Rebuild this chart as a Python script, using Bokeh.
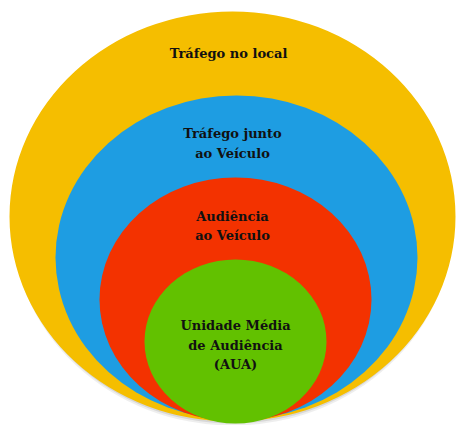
from bokeh.plotting import figure
from bokeh.models import Range1d, ColumnDataSource
from bokeh.core.properties import value
from bokeh.embed import file_html
from bokeh.resources import INLINE

# Nested audience levels (outer to inner), in pixel-like units
levels = ["Tráfego no local", "Tráfego junto ao Veículo", "Audiência ao Veículo", "Unidade Média de Audiência (AUA)"]
centers_x = [232, 236, 235, 235]
centers_y = [216, 257, 299, 341]
widths = [446, 362, 272, 182]
heights = [410, 324, 244, 164]
colors = ["#F5BE00", "#1E9DE2", "#F33200", "#62C100"]

label_lines = ["Tráfego no local", "Tráfego junto", "ao Veículo", "Audiência", "ao Veículo",
               "Unidade Média", "de Audiência", "(AUA)"]
label_x = [228, 232, 232, 232, 232, 235, 235, 235]
label_y = [53, 133, 153, 216, 235, 325, 345, 364]

W, H = 458, 425
p = figure(width=W, height=H, output_backend="svg", toolbar_location=None,
           x_range=Range1d(0, W), y_range=Range1d(H, 0), min_border=0)
p.axis.visible = False
p.grid.visible = False
p.outline_line_color = None
p.background_fill_color = "white"
p.border_fill_color = "white"

# soft shadow under the stack
for dy, a in [(4, 0.10), (2, 0.15)]:
    p.ellipse(x=[centers_x[0]], y=[centers_y[0] + dy], width=[widths[0] - 4], height=[heights[0]],
              fill_color="#555555", fill_alpha=a, line_color=None)

src = ColumnDataSource(dict(x=centers_x, y=centers_y, w=widths, h=heights, c=colors))
p.ellipse(x="x", y="y", width="w", height="h", fill_color="c", line_color=None, source=src)

tsrc = ColumnDataSource(dict(x=label_x, y=label_y, t=label_lines))
p.text(x="x", y="y", text="t", source=tsrc, text_align="center", text_baseline="middle",
       text_font=value("'DejaVu Serif', serif"), text_font_style="bold",
       text_font_size="13px", text_color="#111111")

open("out.html", "w").write(file_html(p, INLINE))
